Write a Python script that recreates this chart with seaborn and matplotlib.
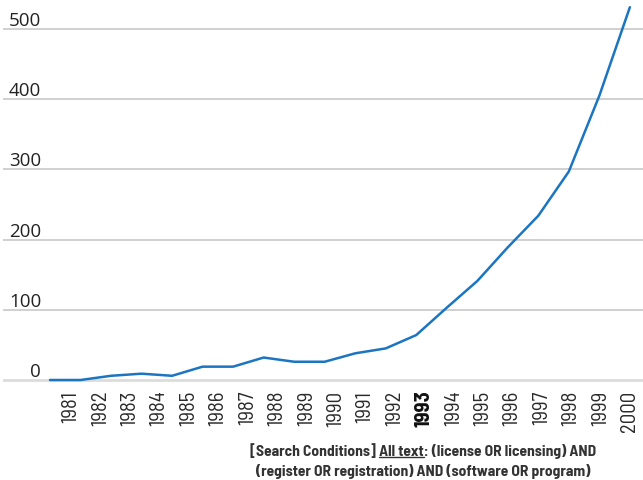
import numpy as np
import pandas as pd
import matplotlib
matplotlib.use("Agg")
import matplotlib.pyplot as plt
from matplotlib.lines import Line2D
import seaborn as sns

years = [1981, 1982, 1983, 1984, 1985, 1986, 1987, 1988, 1989, 1990,
         1991, 1992, 1993, 1994, 1995, 1996, 1997, 1998, 1999, 2000]
counts = [0, 0, 6, 9, 6, 19, 19, 32, 26, 26,
          38, 45, 64, 103, 141, 189, 234, 297, 405, 531]
y_ticks = [0, 100, 200, 300, 400, 500]
highlight_year = 1993
note_prefix = "[Search Conditions] "
note_underlined = "All text"
note_rest = ": (license OR licensing) AND"
note_line2 = "(register OR registration) AND (software OR program)"

df = pd.DataFrame({"pos": np.arange(len(years)), "count": counts})

sns.set_style("white")
plt.rcParams["font.family"] = ["Open Sans", "DejaVu Sans"]

COND = ["Barlow Semi Condensed", "DejaVu Sans"]

W, H = 643, 481
fig = plt.figure(figsize=(W / 100, H / 100), dpi=100)
ax = fig.add_axes([3 / W, 1 - 385 / H, 1 - 3 / W, 385 / H])

LINE_COLOR = "#1b75c1"
sns.lineplot(data=df, x="pos", y="count", ax=ax, color=LINE_COLOR,
             linewidth=1.8, zorder=3)

ax.set_xlim(-1.54, 19.43)
ax.set_ylim(-5.7, 542.7)

# gridlines
for v in y_ticks:
    if v == 0:
        ax.axhline(v, color="#dcdcdc", lw=2.0, zorder=1)
    else:
        ax.axhline(v, color="#c4c4c4", lw=1.1, zorder=1)

for s in ax.spines.values():
    s.set_visible(False)

# y tick labels inside, above gridlines
ax.set_yticks(y_ticks)
ax.set_yticklabels([str(v) for v in y_ticks])
ax.tick_params(axis="y", length=0, pad=-27.5, labelsize=13.5, labelcolor="#222222")
for lab in ax.get_yticklabels():
    lab.set_va("bottom")
    lab.set_ha("right")

# x tick labels (rotated, condensed)
tick_pos = 0.69 + np.arange(len(years)) * 0.9636
ax.set_xticks(tick_pos)
ax.set_xticklabels([str(y) for y in years], rotation=90)
ax.tick_params(axis="x", length=0, pad=4, labelsize=15, labelcolor="#2a2a2a")
for lab, y in zip(ax.get_xticklabels(), years):
    lab.set_family(COND)
    lab.set_va("top")
    if y == highlight_year:
        lab.set_fontweight("bold")
        lab.set_color("#111111")
    else:
        lab.set_fontweight("normal")
ax.set_xlabel("")
ax.set_ylabel("")
ax.grid(False)

# bottom note
note_font = dict(family=COND, weight="bold", size=11.2, color="#333333")
cx = 423 / W
line1 = note_prefix + note_underlined + note_rest
t1 = fig.text(cx, 1 - 451 / H, line1, ha="center", va="center", **note_font)
t2 = fig.text(cx, 1 - 472 / H, note_line2, ha="center", va="center", **note_font)

fig.canvas.draw()
r = fig.canvas.get_renderer()
bb1 = t1.get_window_extent(r)
tmp = fig.text(0, 0, note_prefix + note_underlined, **note_font)
w_pre = tmp.get_window_extent(r).width
tmp.set_text(note_underlined)
w_ul = tmp.get_window_extent(r).width
tmp.remove()
x_end = bb1.x0 + w_pre
x_start = x_end - w_ul
y_ul = bb1.y0 + 1
fig.add_artist(Line2D([x_start / W, x_end / W], [y_ul / H, y_ul / H],
                      transform=fig.transFigure, color="#333333", lw=1.0))

fig.savefig("out.png", dpi=100)
